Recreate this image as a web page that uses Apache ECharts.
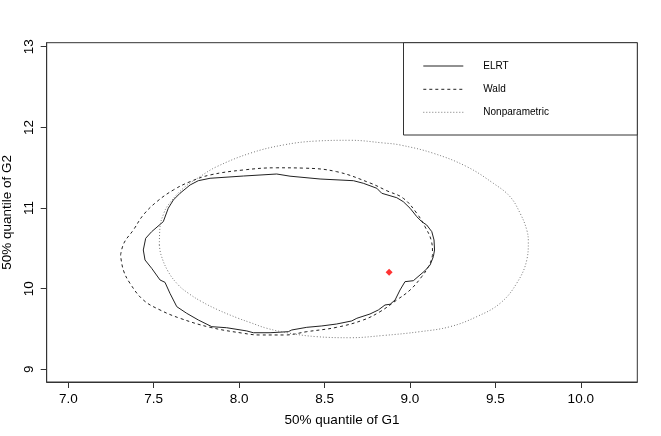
<!DOCTYPE html>
<html>
<head>
<meta charset="utf-8">
<script src="https://cdn.jsdelivr.net/npm/echarts@6/dist/echarts.min.js"></script>
<style>
html,body{margin:0;padding:0;background:#fff;}
#c{width:661px;height:436px;}
</style>
</head>
<body>
<div id="c"></div>
<script>
// ---- data ----
var xTicks = [7.0, 7.5, 8.0, 8.5, 9.0, 9.5, 10.0];
var yTicks = [9, 10, 11, 12, 13];
var seriesNames = ['ELRT', 'Wald', 'Nonparametric'];

var elrtX = [7.439,7.453,7.488,7.556,7.585,7.615,7.654,7.713,7.761,7.830,8.025,8.220,8.298,8.474,8.669,8.727,8.806,8.835,8.923,8.961,9.001,9.040,9.069,9.098,9.128,9.141,9.144,9.137,9.118,9.088,9.020,8.971,8.942,8.913,8.884,8.854,8.815,8.766,8.689,8.659,8.571,8.484,8.396,8.308,8.288,8.181,8.083,8.045,7.927,7.840,7.761,7.693,7.635,7.595,7.566,7.537,7.488,7.449,7.439];
var elrtY = [10.480,10.625,10.707,10.831,10.997,11.100,11.183,11.286,11.339,11.369,11.397,11.422,11.395,11.360,11.339,11.307,11.245,11.183,11.128,11.079,10.997,10.893,10.831,10.790,10.707,10.604,10.480,10.397,10.294,10.223,10.099,10.087,9.984,9.860,9.807,9.798,9.736,9.686,9.633,9.600,9.562,9.538,9.521,9.488,9.467,9.454,9.454,9.476,9.516,9.529,9.612,9.695,9.777,9.943,10.079,10.108,10.253,10.356,10.480];

var waldX = [7.306,7.326,7.381,7.439,7.518,7.615,7.713,7.830,8.025,8.220,8.376,8.571,8.766,8.864,8.961,9.040,9.088,9.124,9.132,9.130,9.108,9.069,9.001,8.923,8.825,8.727,8.571,8.396,8.269,8.122,8.025,7.830,7.654,7.537,7.439,7.361,7.322,7.306];
var waldY = [10.418,10.567,10.728,10.914,11.079,11.224,11.327,11.410,11.472,11.499,11.495,11.451,11.311,11.215,11.121,10.935,10.769,10.604,10.443,10.393,10.273,10.149,9.984,9.860,9.715,9.612,9.521,9.467,9.426,9.426,9.447,9.521,9.633,9.736,9.860,10.067,10.232,10.418];

var nonparX = [7.533,7.537,7.560,7.585,7.673,7.771,7.869,8.064,8.259,8.454,8.649,8.844,8.942,9.137,9.333,9.488,9.586,9.645,9.684,9.693,9.684,9.625,9.528,9.391,9.235,9.059,8.844,8.649,8.454,8.298,8.162,8.064,7.995,7.878,7.781,7.703,7.644,7.585,7.543,7.533];
var nonparY = [10.542,10.769,10.939,11.038,11.245,11.389,11.513,11.679,11.782,11.831,11.840,11.807,11.782,11.679,11.513,11.307,11.141,10.935,10.728,10.579,10.356,10.067,9.819,9.653,9.529,9.467,9.420,9.392,9.405,9.447,9.509,9.581,9.633,9.736,9.839,9.943,10.046,10.211,10.418,10.542];

var pointX = [8.878];
var pointY = [10.203];

function pairs(xs, ys){ return xs.map(function(x,i){ return [x, ys[i]]; }); }

var chart = echarts.init(document.getElementById('c'), null, {renderer:'canvas'});
var font = 'Liberation Sans, Arial, Helvetica, sans-serif';
var lineColor = '#222';

chart.setOption({
  animation: false,
  backgroundColor: '#fff',
  grid: {left: 46.7, right: 23.7, top: 42.7, bottom: 54, show: true, borderColor: '#333', borderWidth: 1,
    containLabel: false, outerBoundsMode: 'none'},
  xAxis: {
    type: 'value', min: 6.8735, max: 10.331,
    name: '50% quantile of G1', nameLocation: 'middle', nameGap: 31,
    nameTextStyle: {fontFamily: font, fontSize: 13.5, color: '#000'},
    axisLine: {show: true, lineStyle: {color: '#333'}},
    axisTick: {show: true, length: 6, customValues: xTicks, lineStyle: {color: '#333'}},
    axisLabel: {customValues: xTicks, margin: 10, fontFamily: font, fontSize: 13.5, color: '#000',
      formatter: function(v){ return v.toFixed(1); }},
    splitLine: {show: false}
  },
  yAxis: {
    type: 'value', min: 8.843, max: 13.05,
    name: '50% quantile of G2', nameLocation: 'middle', nameGap: 32,
    nameTextStyle: {fontFamily: font, fontSize: 13.5, color: '#000'},
    axisLine: {show: true, lineStyle: {color: '#333'}},
    axisTick: {show: true, length: 6, customValues: yTicks, lineStyle: {color: '#333'}},
    axisLabel: {customValues: yTicks, rotate: 90, margin: 10, fontFamily: font, fontSize: 13.5, color: '#000',
      formatter: function(v){ return String(v); }},
    splitLine: {show: false}
  },
  series: [
    {name: seriesNames[0], type: 'line', data: pairs(elrtX, elrtY), showSymbol: false, symbol: 'none',
      lineStyle: {color: lineColor, width: 1, type: 'solid'}},
    {name: seriesNames[1], type: 'line', data: pairs(waldX, waldY), showSymbol: false, symbol: 'none', smooth: 0.4,
      lineStyle: {color: lineColor, width: 1, type: [3, 3]}},
    {name: seriesNames[2], type: 'line', data: pairs(nonparX, nonparY), showSymbol: false, symbol: 'none', smooth: 0.4,
      lineStyle: {color: '#777', width: 1, type: [1, 2]}},
    {name: 'point', type: 'scatter', data: pairs(pointX, pointY), symbol: 'diamond', symbolSize: 7,
      itemStyle: {color: '#ff0000'}}
  ],
  graphic: [
    {type: 'rect', shape: {x: 403.5, y: 42.7, width: 233.8, height: 92.3}, style: {fill: '#fff', stroke: '#333', lineWidth: 1}, z: 10},
    {type: 'line', shape: {x1: 423.3, y1: 66, x2: 463.3, y2: 66}, style: {stroke: lineColor, lineWidth: 1}, z: 11},
    {type: 'line', shape: {x1: 423.3, y1: 89.3, x2: 463.3, y2: 89.3}, style: {stroke: lineColor, lineWidth: 1, lineDash: [3, 3]}, z: 11},
    {type: 'line', shape: {x1: 423.3, y1: 112.3, x2: 463.3, y2: 112.3}, style: {stroke: '#777', lineWidth: 1, lineDash: [1, 2]}, z: 11},
    {type: 'text', x: 483.3, y: 66, style: {text: seriesNames[0], fontFamily: font, fontSize: 10, fill: '#000', verticalAlign: 'middle'}, z: 11},
    {type: 'text', x: 483.3, y: 89.3, style: {text: seriesNames[1], fontFamily: font, fontSize: 10, fill: '#000', verticalAlign: 'middle'}, z: 11},
    {type: 'text', x: 483.3, y: 112.3, style: {text: seriesNames[2], fontFamily: font, fontSize: 10, fill: '#000', verticalAlign: 'middle'}, z: 11}
  ]
});
</script>
</body>
</html>
